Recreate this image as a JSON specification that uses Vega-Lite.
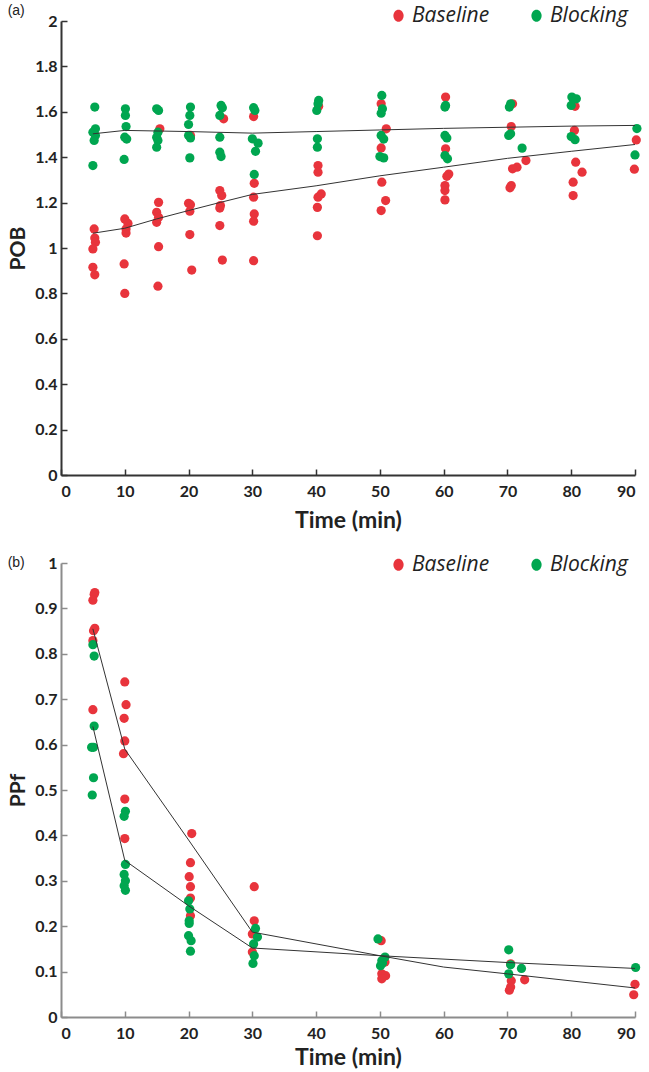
{
  "$schema": "https://vega.github.io/schema/vega-lite/v6.json",
  "padding": {"left": 7, "top": 4, "right": 5, "bottom": 0},
  "spacing": 22,
  "config": {
    "view": {"stroke": null},
    "axis": {
      "grid": false,
      "domainWidth": 2,
      "tickWidth": 1.5,
      "tickSize": -6,
      "labelPadding": 10,
      "labelFont": "Lato",
      "labelFontWeight": "bold",
      "labelFontSize": 16,
      "labelColor": "#222222",
      "titleFont": "Lato",
      "titleFontWeight": "bold",
      "titleFontSize": 23,
      "titleColor": "#222222"
    },
    "axisX": {"labelPadding": 14, "titlePadding": 10},
    "axisY": {"titleFontSize": 21, "titlePadding": 6},
    "legend": {
      "labelFont": "Open Sans",
      "labelFontStyle": "italic",
      "labelFontSize": 21,
      "labelColor": "#222222",
      "symbolType": "M0,-1A0.85,1 0 1,1 0,1A0.85,1 0 1,1 0,-1Z",
      "symbolSize": 144,
      "symbolStrokeWidth": 0,
      "columnPadding": 36,
      "labelOffset": 3
    },
    "title": {"font": "Liberation Sans", "fontSize": 14, "fontWeight": "normal", "color": "#222222", "anchor": "start"}
  },
  "datasets": {
    "pobPts": [
      {"t": 5.2, "v": 1.084, "group": "Baseline"},
      {"t": 5.3, "v": 1.044, "group": "Baseline"},
      {"t": 5.4, "v": 1.025, "group": "Baseline"},
      {"t": 5.0, "v": 0.996, "group": "Baseline"},
      {"t": 5.0, "v": 0.915, "group": "Baseline"},
      {"t": 5.3, "v": 0.882, "group": "Baseline"},
      {"t": 10.0, "v": 1.128, "group": "Baseline"},
      {"t": 10.5, "v": 1.108, "group": "Baseline"},
      {"t": 10.2, "v": 1.084, "group": "Baseline"},
      {"t": 10.2, "v": 1.066, "group": "Baseline"},
      {"t": 9.9, "v": 0.93, "group": "Baseline"},
      {"t": 10.0, "v": 0.80, "group": "Baseline"},
      {"t": 15.5, "v": 1.525, "group": "Baseline"},
      {"t": 15.3, "v": 1.201, "group": "Baseline"},
      {"t": 15.0, "v": 1.157, "group": "Baseline"},
      {"t": 15.3, "v": 1.135, "group": "Baseline"},
      {"t": 15.0, "v": 1.113, "group": "Baseline"},
      {"t": 15.3, "v": 1.006, "group": "Baseline"},
      {"t": 15.2, "v": 0.832, "group": "Baseline"},
      {"t": 20.3, "v": 1.496, "group": "Baseline"},
      {"t": 20.0, "v": 1.197, "group": "Baseline"},
      {"t": 20.3, "v": 1.191, "group": "Baseline"},
      {"t": 20.2, "v": 1.162, "group": "Baseline"},
      {"t": 20.2, "v": 1.059, "group": "Baseline"},
      {"t": 20.5, "v": 0.903, "group": "Baseline"},
      {"t": 25.5, "v": 1.569, "group": "Baseline"},
      {"t": 24.9, "v": 1.253, "group": "Baseline"},
      {"t": 25.2, "v": 1.231, "group": "Baseline"},
      {"t": 25.0, "v": 1.187, "group": "Baseline"},
      {"t": 24.9, "v": 1.176, "group": "Baseline"},
      {"t": 24.9, "v": 1.099, "group": "Baseline"},
      {"t": 25.3, "v": 0.947, "group": "Baseline"},
      {"t": 30.2, "v": 1.579, "group": "Baseline"},
      {"t": 30.3, "v": 1.285, "group": "Baseline"},
      {"t": 30.2, "v": 1.224, "group": "Baseline"},
      {"t": 30.3, "v": 1.15, "group": "Baseline"},
      {"t": 30.2, "v": 1.118, "group": "Baseline"},
      {"t": 30.2, "v": 0.944, "group": "Baseline"},
      {"t": 40.4, "v": 1.624, "group": "Baseline"},
      {"t": 40.3, "v": 1.363, "group": "Baseline"},
      {"t": 40.3, "v": 1.334, "group": "Baseline"},
      {"t": 40.8, "v": 1.238, "group": "Baseline"},
      {"t": 40.3, "v": 1.224, "group": "Baseline"},
      {"t": 40.2, "v": 1.179, "group": "Baseline"},
      {"t": 40.2, "v": 1.054, "group": "Baseline"},
      {"t": 50.2, "v": 1.635, "group": "Baseline"},
      {"t": 51.0, "v": 1.525, "group": "Baseline"},
      {"t": 50.2, "v": 1.441, "group": "Baseline"},
      {"t": 50.3, "v": 1.29, "group": "Baseline"},
      {"t": 50.9, "v": 1.209, "group": "Baseline"},
      {"t": 50.2, "v": 1.165, "group": "Baseline"},
      {"t": 60.3, "v": 1.665, "group": "Baseline"},
      {"t": 60.3, "v": 1.437, "group": "Baseline"},
      {"t": 60.8, "v": 1.326, "group": "Baseline"},
      {"t": 60.5, "v": 1.316, "group": "Baseline"},
      {"t": 60.2, "v": 1.275, "group": "Baseline"},
      {"t": 60.2, "v": 1.253, "group": "Baseline"},
      {"t": 60.2, "v": 1.212, "group": "Baseline"},
      {"t": 70.8, "v": 1.635, "group": "Baseline"},
      {"t": 70.6, "v": 1.535, "group": "Baseline"},
      {"t": 72.9, "v": 1.385, "group": "Baseline"},
      {"t": 71.5, "v": 1.356, "group": "Baseline"},
      {"t": 70.8, "v": 1.349, "group": "Baseline"},
      {"t": 70.6, "v": 1.275, "group": "Baseline"},
      {"t": 70.4, "v": 1.265, "group": "Baseline"},
      {"t": 80.6, "v": 1.624, "group": "Baseline"},
      {"t": 80.5, "v": 1.518, "group": "Baseline"},
      {"t": 80.7, "v": 1.378, "group": "Baseline"},
      {"t": 81.7, "v": 1.334, "group": "Baseline"},
      {"t": 80.3, "v": 1.29, "group": "Baseline"},
      {"t": 80.3, "v": 1.231, "group": "Baseline"},
      {"t": 90.2, "v": 1.476, "group": "Baseline"},
      {"t": 89.9, "v": 1.347, "group": "Baseline"},
      {"t": 5.3, "v": 1.621, "group": "Blocking"},
      {"t": 5.4, "v": 1.525, "group": "Blocking"},
      {"t": 5.0, "v": 1.51, "group": "Blocking"},
      {"t": 5.4, "v": 1.496, "group": "Blocking"},
      {"t": 5.2, "v": 1.474, "group": "Blocking"},
      {"t": 5.0, "v": 1.363, "group": "Blocking"},
      {"t": 10.1, "v": 1.613, "group": "Blocking"},
      {"t": 10.1, "v": 1.584, "group": "Blocking"},
      {"t": 10.2, "v": 1.535, "group": "Blocking"},
      {"t": 10.0, "v": 1.488, "group": "Blocking"},
      {"t": 10.3, "v": 1.48, "group": "Blocking"},
      {"t": 9.9, "v": 1.39, "group": "Blocking"},
      {"t": 15.0, "v": 1.613, "group": "Blocking"},
      {"t": 15.3, "v": 1.606, "group": "Blocking"},
      {"t": 15.2, "v": 1.51, "group": "Blocking"},
      {"t": 15.0, "v": 1.488, "group": "Blocking"},
      {"t": 15.2, "v": 1.474, "group": "Blocking"},
      {"t": 15.0, "v": 1.444, "group": "Blocking"},
      {"t": 20.3, "v": 1.621, "group": "Blocking"},
      {"t": 20.2, "v": 1.584, "group": "Blocking"},
      {"t": 20.0, "v": 1.544, "group": "Blocking"},
      {"t": 20.0, "v": 1.496, "group": "Blocking"},
      {"t": 20.3, "v": 1.485, "group": "Blocking"},
      {"t": 20.2, "v": 1.397, "group": "Blocking"},
      {"t": 25.1, "v": 1.628, "group": "Blocking"},
      {"t": 25.3, "v": 1.618, "group": "Blocking"},
      {"t": 24.9, "v": 1.584, "group": "Blocking"},
      {"t": 24.9, "v": 1.488, "group": "Blocking"},
      {"t": 24.9, "v": 1.422, "group": "Blocking"},
      {"t": 25.1, "v": 1.403, "group": "Blocking"},
      {"t": 30.2, "v": 1.618, "group": "Blocking"},
      {"t": 30.4, "v": 1.606, "group": "Blocking"},
      {"t": 30.0, "v": 1.481, "group": "Blocking"},
      {"t": 30.9, "v": 1.462, "group": "Blocking"},
      {"t": 30.5, "v": 1.426, "group": "Blocking"},
      {"t": 30.3, "v": 1.324, "group": "Blocking"},
      {"t": 40.4, "v": 1.65, "group": "Blocking"},
      {"t": 40.3, "v": 1.635, "group": "Blocking"},
      {"t": 40.1, "v": 1.606, "group": "Blocking"},
      {"t": 40.2, "v": 1.481, "group": "Blocking"},
      {"t": 40.2, "v": 1.444, "group": "Blocking"},
      {"t": 50.3, "v": 1.672, "group": "Blocking"},
      {"t": 50.4, "v": 1.613, "group": "Blocking"},
      {"t": 50.2, "v": 1.594, "group": "Blocking"},
      {"t": 50.2, "v": 1.496, "group": "Blocking"},
      {"t": 50.6, "v": 1.48, "group": "Blocking"},
      {"t": 50.0, "v": 1.403, "group": "Blocking"},
      {"t": 50.6, "v": 1.397, "group": "Blocking"},
      {"t": 60.3, "v": 1.628, "group": "Blocking"},
      {"t": 60.2, "v": 1.621, "group": "Blocking"},
      {"t": 60.2, "v": 1.496, "group": "Blocking"},
      {"t": 60.5, "v": 1.485, "group": "Blocking"},
      {"t": 60.2, "v": 1.407, "group": "Blocking"},
      {"t": 60.6, "v": 1.393, "group": "Blocking"},
      {"t": 70.5, "v": 1.635, "group": "Blocking"},
      {"t": 70.3, "v": 1.621, "group": "Blocking"},
      {"t": 70.5, "v": 1.503, "group": "Blocking"},
      {"t": 70.2, "v": 1.496, "group": "Blocking"},
      {"t": 72.3, "v": 1.44, "group": "Blocking"},
      {"t": 80.1, "v": 1.665, "group": "Blocking"},
      {"t": 80.8, "v": 1.657, "group": "Blocking"},
      {"t": 80.0, "v": 1.628, "group": "Blocking"},
      {"t": 80.0, "v": 1.491, "group": "Blocking"},
      {"t": 80.6, "v": 1.477, "group": "Blocking"},
      {"t": 90.3, "v": 1.526, "group": "Blocking"},
      {"t": 90.0, "v": 1.41, "group": "Blocking"}
    ],
    "pobFit": [
      {"t": 5, "v": 1.065, "group": "Baseline"},
      {"t": 10, "v": 1.087, "group": "Baseline"},
      {"t": 15, "v": 1.128, "group": "Baseline"},
      {"t": 20, "v": 1.165, "group": "Baseline"},
      {"t": 25, "v": 1.201, "group": "Baseline"},
      {"t": 30, "v": 1.236, "group": "Baseline"},
      {"t": 40, "v": 1.274, "group": "Baseline"},
      {"t": 50, "v": 1.318, "group": "Baseline"},
      {"t": 60, "v": 1.356, "group": "Baseline"},
      {"t": 70, "v": 1.395, "group": "Baseline"},
      {"t": 80, "v": 1.426, "group": "Baseline"},
      {"t": 90, "v": 1.456, "group": "Baseline"},
      {"t": 5, "v": 1.503, "group": "Blocking"},
      {"t": 10, "v": 1.518, "group": "Blocking"},
      {"t": 20, "v": 1.513, "group": "Blocking"},
      {"t": 30, "v": 1.506, "group": "Blocking"},
      {"t": 40, "v": 1.513, "group": "Blocking"},
      {"t": 50, "v": 1.52, "group": "Blocking"},
      {"t": 60, "v": 1.527, "group": "Blocking"},
      {"t": 70, "v": 1.532, "group": "Blocking"},
      {"t": 80, "v": 1.537, "group": "Blocking"},
      {"t": 90, "v": 1.54, "group": "Blocking"}
    ],
    "ppfPts": [
      {"t": 5.3, "v": 0.935, "group": "Baseline"},
      {"t": 5.2, "v": 0.931, "group": "Baseline"},
      {"t": 5.0, "v": 0.918, "group": "Baseline"},
      {"t": 5.3, "v": 0.856, "group": "Baseline"},
      {"t": 5.1, "v": 0.851, "group": "Baseline"},
      {"t": 5.0, "v": 0.829, "group": "Baseline"},
      {"t": 5.0, "v": 0.677, "group": "Baseline"},
      {"t": 10.0, "v": 0.738, "group": "Baseline"},
      {"t": 10.2, "v": 0.688, "group": "Baseline"},
      {"t": 9.9, "v": 0.658, "group": "Baseline"},
      {"t": 10.0, "v": 0.608, "group": "Baseline"},
      {"t": 9.8, "v": 0.58, "group": "Baseline"},
      {"t": 10.0, "v": 0.48, "group": "Baseline"},
      {"t": 10.0, "v": 0.393, "group": "Baseline"},
      {"t": 20.5, "v": 0.404, "group": "Baseline"},
      {"t": 20.3, "v": 0.34, "group": "Baseline"},
      {"t": 20.1, "v": 0.309, "group": "Baseline"},
      {"t": 20.3, "v": 0.287, "group": "Baseline"},
      {"t": 20.3, "v": 0.262, "group": "Baseline"},
      {"t": 20.3, "v": 0.223, "group": "Baseline"},
      {"t": 30.3, "v": 0.287, "group": "Baseline"},
      {"t": 30.3, "v": 0.212, "group": "Baseline"},
      {"t": 30.0, "v": 0.183, "group": "Baseline"},
      {"t": 30.0, "v": 0.143, "group": "Baseline"},
      {"t": 50.2, "v": 0.168, "group": "Baseline"},
      {"t": 50.8, "v": 0.121, "group": "Baseline"},
      {"t": 50.3, "v": 0.095, "group": "Baseline"},
      {"t": 50.9, "v": 0.091, "group": "Baseline"},
      {"t": 50.3, "v": 0.084, "group": "Baseline"},
      {"t": 70.5, "v": 0.117, "group": "Baseline"},
      {"t": 70.6, "v": 0.08, "group": "Baseline"},
      {"t": 72.7, "v": 0.082, "group": "Baseline"},
      {"t": 70.5, "v": 0.066, "group": "Baseline"},
      {"t": 70.3, "v": 0.059, "group": "Baseline"},
      {"t": 90.0, "v": 0.072, "group": "Baseline"},
      {"t": 89.8, "v": 0.049, "group": "Baseline"},
      {"t": 5.0, "v": 0.82, "group": "Blocking"},
      {"t": 5.2, "v": 0.795, "group": "Blocking"},
      {"t": 5.2, "v": 0.641, "group": "Blocking"},
      {"t": 4.8, "v": 0.594, "group": "Blocking"},
      {"t": 5.1, "v": 0.594, "group": "Blocking"},
      {"t": 5.1, "v": 0.527, "group": "Blocking"},
      {"t": 4.9, "v": 0.489, "group": "Blocking"},
      {"t": 10.1, "v": 0.453, "group": "Blocking"},
      {"t": 9.9, "v": 0.442, "group": "Blocking"},
      {"t": 10.1, "v": 0.336, "group": "Blocking"},
      {"t": 9.9, "v": 0.314, "group": "Blocking"},
      {"t": 10.1, "v": 0.30, "group": "Blocking"},
      {"t": 9.9, "v": 0.289, "group": "Blocking"},
      {"t": 10.1, "v": 0.279, "group": "Blocking"},
      {"t": 20.0, "v": 0.256, "group": "Blocking"},
      {"t": 20.2, "v": 0.238, "group": "Blocking"},
      {"t": 20.1, "v": 0.212, "group": "Blocking"},
      {"t": 20.1, "v": 0.206, "group": "Blocking"},
      {"t": 20.0, "v": 0.179, "group": "Blocking"},
      {"t": 20.4, "v": 0.168, "group": "Blocking"},
      {"t": 20.3, "v": 0.145, "group": "Blocking"},
      {"t": 30.5, "v": 0.195, "group": "Blocking"},
      {"t": 30.8, "v": 0.176, "group": "Blocking"},
      {"t": 30.2, "v": 0.161, "group": "Blocking"},
      {"t": 30.3, "v": 0.135, "group": "Blocking"},
      {"t": 30.1, "v": 0.118, "group": "Blocking"},
      {"t": 49.7, "v": 0.172, "group": "Blocking"},
      {"t": 50.8, "v": 0.132, "group": "Blocking"},
      {"t": 50.3, "v": 0.124, "group": "Blocking"},
      {"t": 50.4, "v": 0.119, "group": "Blocking"},
      {"t": 50.1, "v": 0.113, "group": "Blocking"},
      {"t": 70.2, "v": 0.148, "group": "Blocking"},
      {"t": 70.5, "v": 0.115, "group": "Blocking"},
      {"t": 72.2, "v": 0.107, "group": "Blocking"},
      {"t": 70.2, "v": 0.095, "group": "Blocking"},
      {"t": 90.1, "v": 0.109, "group": "Blocking"}
    ],
    "ppfFit": [
      {"t": 5, "v": 0.855, "group": "Baseline"},
      {"t": 10, "v": 0.59, "group": "Baseline"},
      {"t": 20, "v": 0.39, "group": "Baseline"},
      {"t": 30, "v": 0.187, "group": "Baseline"},
      {"t": 50, "v": 0.135, "group": "Baseline"},
      {"t": 60, "v": 0.11, "group": "Baseline"},
      {"t": 70, "v": 0.095, "group": "Baseline"},
      {"t": 90, "v": 0.064, "group": "Baseline"},
      {"t": 5, "v": 0.64, "group": "Blocking"},
      {"t": 10, "v": 0.345, "group": "Blocking"},
      {"t": 20, "v": 0.245, "group": "Blocking"},
      {"t": 30, "v": 0.152, "group": "Blocking"},
      {"t": 50, "v": 0.135, "group": "Blocking"},
      {"t": 70, "v": 0.12, "group": "Blocking"},
      {"t": 90, "v": 0.107, "group": "Blocking"}
    ]
  },
  "vconcat": [
    {
      "title": {"text": "(a)", "offset": -13},
      "width": 574,
      "height": 454,
      "layer": [
        {
          "data": {"name": "pobPts"},
          "mark": {"type": "circle", "size": 85, "opacity": 1},
          "encoding": {
            "x": {"field": "t", "type": "quantitative", "scale": {"domain": [0, 90], "nice": false}, "axis": {"values": [0, 10, 20, 30, 40, 50, 60, 70, 80, 90], "title": "Time (min)", "domainColor": "#333333", "tickColor": "#333333"}},
            "y": {"field": "v", "type": "quantitative", "scale": {"domain": [0, 2], "nice": false}, "axis": {"values": [0, 0.2, 0.4, 0.6, 0.8, 1, 1.2, 1.4, 1.6, 1.8, 2], "format": "~g", "title": "POB", "domainColor": "#333333", "tickColor": "#333333"}},
            "color": {"field": "group", "type": "nominal", "scale": {"domain": ["Baseline", "Blocking"], "range": ["#E8343C", "#00A650"]}, "legend": {"title": null, "orient": "none", "direction": "horizontal", "legendX": 327, "legendY": -16}}
          }
        },
        {
          "data": {"name": "pobFit"},
          "mark": {"type": "line", "color": "#333333", "strokeWidth": 1},
          "encoding": {
            "x": {"field": "t", "type": "quantitative"},
            "y": {"field": "v", "type": "quantitative"},
            "detail": {"field": "group", "type": "nominal"}
          }
        }
      ]
    },
    {
      "title": {"text": "(b)", "offset": -16},
      "width": 574,
      "height": 454,
      "layer": [
        {
          "data": {"name": "ppfPts"},
          "mark": {"type": "circle", "size": 85, "opacity": 1},
          "encoding": {
            "x": {"field": "t", "type": "quantitative", "scale": {"domain": [0, 90], "nice": false}, "axis": {"values": [0, 10, 20, 30, 40, 50, 60, 70, 80, 90], "title": "Time (min)", "titlePadding": 5, "domainColor": "#8c8c8c", "tickColor": "#8c8c8c"}},
            "y": {"field": "v", "type": "quantitative", "scale": {"domain": [0, 1], "nice": false}, "axis": {"values": [0, 0.1, 0.2, 0.3, 0.4, 0.5, 0.6, 0.7, 0.8, 0.9, 1], "format": "~g", "title": "PPf", "domainColor": "#8c8c8c", "tickColor": "#8c8c8c"}},
            "color": {"field": "group", "type": "nominal", "scale": {"domain": ["Baseline", "Blocking"], "range": ["#E8343C", "#00A650"]}, "legend": {"title": null, "orient": "none", "direction": "horizontal", "legendX": 327, "legendY": -9}}
          }
        },
        {
          "data": {"name": "ppfFit"},
          "mark": {"type": "line", "color": "#333333", "strokeWidth": 1},
          "encoding": {
            "x": {"field": "t", "type": "quantitative"},
            "y": {"field": "v", "type": "quantitative"},
            "detail": {"field": "group", "type": "nominal"}
          }
        }
      ]
    }
  ],
  "resolve": {"scale": {"color": "shared"}, "legend": {"color": "independent"}}
}
